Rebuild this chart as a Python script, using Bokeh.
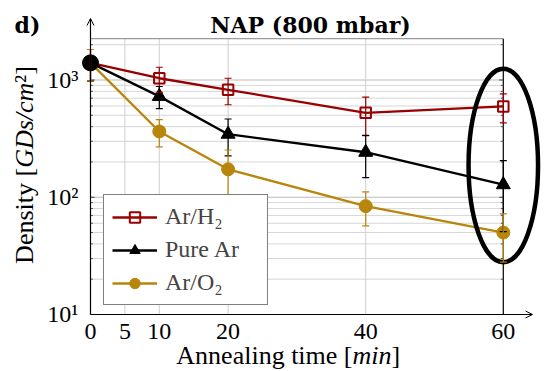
import math
from bokeh.plotting import figure
from bokeh.models import (Range1d, FixedTicker, Whisker, TeeHead, ColumnDataSource,
                          Legend, LegendItem, Label, Arrow, OpenHead)
from bokeh.embed import file_html
from bokeh.resources import INLINE

# ---------------- data ----------------
times = [0, 10, 20, 40, 60]
ar_h2 = [1400, 1035, 825, 525, 595]
ar_h2_err = [420, 250, 210, 190, 165]
pure_ar = [1400, 725, 345, 242, 128]
pure_ar_err = [420, 155, 120, 95, 77]
ar_o2 = [1400, 364, 173, 84, 50]
ar_o2_err = [420, 95, 80, 27, 22]
init_time = [0]
init_density = [1400]

series_names = ["Ar/H₂", "Pure Ar", "Ar/O₂"]
x_ticks = [0, 5, 10, 20, 40, 60]
x_grid = [5, 10, 20, 40]
y_major = [10, 100, 1000]
y_labels = ["10¹", "10²", "10³"]
y_minor = [20, 30, 40, 50, 60, 70, 80, 90,
           200, 300, 400, 500, 600, 700, 800, 900, 2000]
y_box_top = 2250
x_box_right = 60
x_axis_end = 64.24
y_axis_end = 3346
ellipse_time = 60
ellipse_density = 186.6

RED = "#990000"
GOLD = "#B8860B"
BLACK = "#000000"
SERIF = "Liberation Serif"

W, H = 548, 371

# ---------------- figure (frame fills the canvas; axes fixed at x=0 / y=10) ----------------
p = figure(width=W, height=H,
           x_range=Range1d(-13.081, 66.570), y_range=Range1d(3.2647, 4764.3),
           y_axis_type="log", output_backend="svg", toolbar_location=None,
           min_border=0, min_border_left=0, min_border_right=0,
           min_border_top=0, min_border_bottom=0,
           background_fill_color="white", border_fill_color="white")
p.outline_line_color = None
p.grid.visible = False

for ax in (p.xaxis, p.yaxis):
    ax.axis_line_color = None
    ax.major_tick_line_color = None
    ax.minor_tick_line_color = None
    ax.major_tick_in = 0
    ax.major_tick_out = 0
    ax.minor_tick_in = 0
    ax.minor_tick_out = 0
    ax.major_label_text_font = SERIF
    ax.major_label_text_font_size = "24px"
    ax.major_label_text_color = "black"
p.xaxis.fixed_location = 10
p.yaxis.fixed_location = 0
p.xaxis.ticker = FixedTicker(ticks=x_ticks)
p.xaxis.major_label_standoff = 10
p.yaxis.ticker = FixedTicker(ticks=y_major, minor_ticks=[])
p.yaxis.major_label_overrides = dict(zip(y_major, y_labels))
p.yaxis.major_label_standoff = 12

# grid
p.segment(x0=0, x1=x_box_right, y0=y_minor, y1=y_minor,
          line_color="#D6D6D6", line_width=1, level="underlay")
p.segment(x0=0, x1=x_box_right, y0=y_major[1:], y1=y_major[1:],
          line_color="#BBBBBB", line_width=1.2, level="underlay")
p.segment(x0=x_grid, x1=x_grid, y0=10, y1=y_box_top,
          line_color="#CFCFCF", line_width=1, level="underlay")
p.segment(x0=[0], x1=[x_box_right], y0=[y_box_top], y1=[y_box_top],
          line_color="#9A9A9A", line_width=1.2, level="underlay")
p.segment(x0=[x_box_right], x1=[x_box_right], y0=[10], y1=[y_box_top],
          line_color="black", line_width=1.2, level="underlay")
# inward ticks
p.segment(x0=0, x1=0.35, y0=y_minor, y1=y_minor, line_color="#555555",
          line_width=1, level="underlay")
p.segment(x0=0, x1=0.6, y0=y_major, y1=y_major, line_color="#444444",
          line_width=1, level="underlay")
p.segment(x0=x_box_right - 0.35, x1=x_box_right, y0=y_minor, y1=y_minor,
          line_color="#555555", line_width=1, level="underlay")
p.segment(x0=x_box_right - 0.6, x1=x_box_right, y0=y_major, y1=y_major,
          line_color="#444444", line_width=1, level="underlay")

# axis lines with arrows
p.add_layout(Arrow(x_start=0, y_start=10, x_end=0, y_end=y_axis_end,
                   line_color="black", line_width=1.2,
                   end=OpenHead(size=7, line_width=1, line_color="black")))
p.add_layout(Arrow(x_start=0, y_start=10, x_end=x_axis_end, y_end=10,
                   line_color="black", line_width=1.2,
                   end=OpenHead(size=7, line_width=1, line_color="black")))

# series
specs = [
    (ar_h2, ar_h2_err, RED, dict(marker="square", size=10.5, fill_color=None,
                                 line_color=RED, line_width=2)),
    (pure_ar, pure_ar_err, BLACK, dict(marker="triangle", size=14,
                                       fill_color=BLACK, line_color=BLACK)),
    (ar_o2, ar_o2_err, GOLD, dict(marker="circle", size=13,
                                  fill_color=GOLD, line_color=GOLD)),
]
items = []
for (vals, errs, color, mk), name in zip(specs, series_names):
    src = ColumnDataSource(dict(t=times, v=vals,
                                lo=[v - e for v, e in zip(vals, errs)],
                                hi=[v + e for v, e in zip(vals, errs)]))
    p.add_layout(Whisker(source=src, base="t", lower="lo", upper="hi",
                         line_color=color, line_width=1.2, level="glyph",
                         upper_head=TeeHead(size=7, line_color=color, line_width=1.2),
                         lower_head=TeeHead(size=7, line_color=color, line_width=1.2)))
    lr = p.line("t", "v", source=src, line_color=color, line_width=2.3)
    sr = p.scatter("t", "v", source=src, **mk)
    items.append(LegendItem(label=name, renderers=[lr, sr]))

# initial state point
p.scatter(init_time, init_density, marker="circle", size=16,
          fill_color="black", line_color="black")

# highlight ellipse
p.ellipse(x=[ellipse_time], y=[ellipse_density], width=69.5, height=193.5,
          width_units="screen", height_units="screen",
          fill_color=None, line_color="black", line_width=4.5)

legend = Legend(items=items, location=(103, 66), border_line_color="black",
                border_line_width=1, background_fill_color="white",
                background_fill_alpha=1, label_text_font=SERIF,
                label_text_font_size="24px", glyph_width=45, glyph_height=26,
                label_height=26, label_width=94, label_standoff=8,
                spacing=6, padding=8, margin=0)
p.add_layout(legend)


def lab(x, y, text, **kw):
    base = dict(x=x, y=y, x_units="screen", y_units="screen", text=text,
                text_baseline="alphabetic", text_font=SERIF,
                text_font_size="26px", text_color="black")
    base.update(kw)
    p.add_layout(Label(**base))


# title and panel tag (screen coords from bottom-left of canvas)
lab(310, H - 24, "NAP (800 mbar)", text_align="center",
    text_font="DejaVu Serif", text_font_style="bold", text_font_size="22px")
lab(14, H - 24, "d)", text_align="left",
    text_font="DejaVu Serif", text_font_style="bold", text_font_size="22px")

# x axis title
xa = 352.0
xb = H - 355
lab(xa, xb, "Annealing time [", text_align="right")
lab(xa, xb, "min", text_align="left", text_font_style="italic")
lab(xa + 39.0, xb, "]", text_align="left")

# y axis title (rotated)
ya = H - 167.35
yx = 23.5
lab(yx, ya, "Density [", angle=math.pi / 2, text_align="right")
lab(yx, ya, "GDs/cm", angle=math.pi / 2, text_align="left",
    text_font_style="italic")
lab(yx, ya + 85.2, "²]", angle=math.pi / 2, text_align="left")

open("out.html", "w").write(file_html(p, INLINE))
